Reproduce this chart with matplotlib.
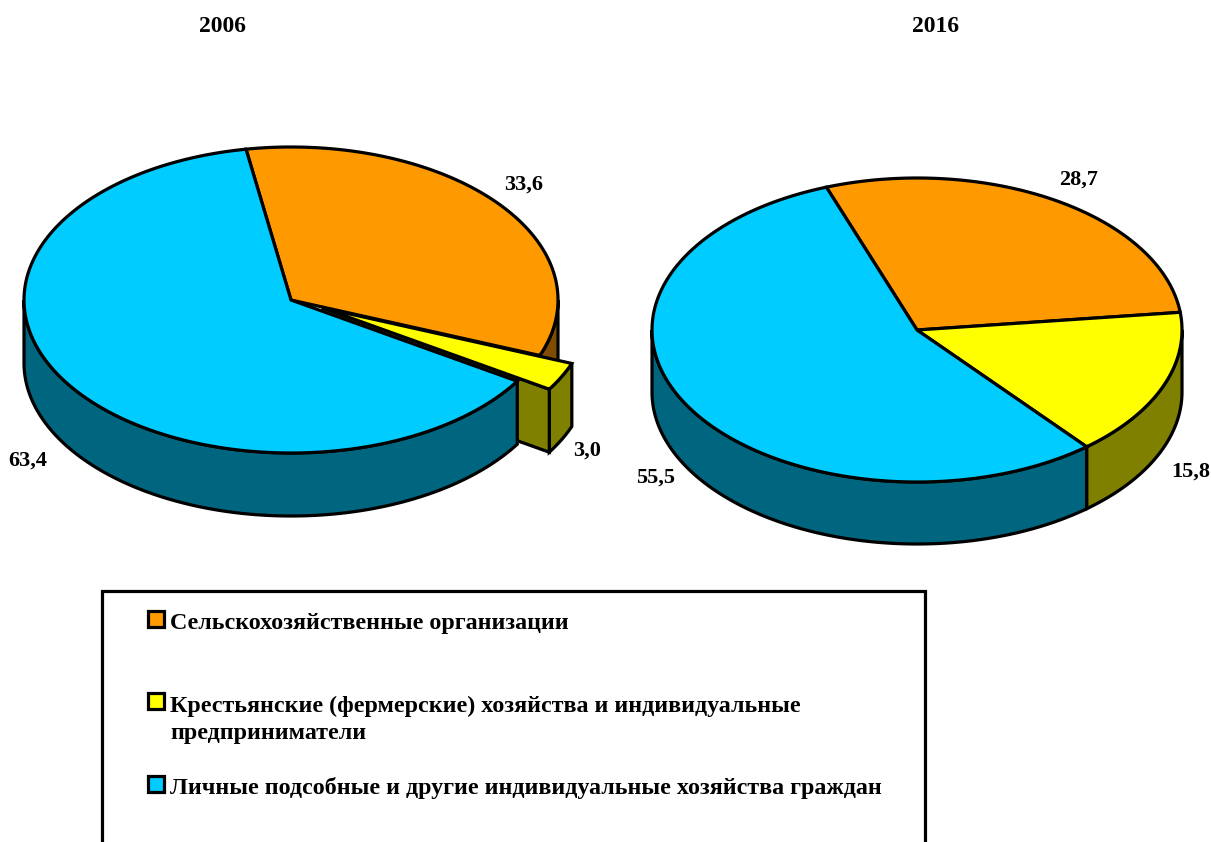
import numpy as np
from matplotlib import pyplot as plt
from matplotlib.patches import Polygon, Rectangle

plt.rcParams['font.family'] = ['Liberation Serif', 'DejaVu Serif']

categories = ['Сельскохозяйственные организации',
              'Крестьянские (фермерские) хозяйства и индивидуальные\nпредприниматели',
              'Личные подсобные и другие индивидуальные хозяйства граждан']
years = ['2006', '2016']
values2006 = [33.6, 3.0, 63.4]
values2016 = [28.7, 15.8, 55.5]

topColors = ['#FF9900', '#FFFF00', '#00CCFF']
sideColors = ['#804D00', '#808000', '#006680']
LINE = 2.3


def arc(cx, cy, rx, ry, t1, t2):
    t = np.radians(np.linspace(t1, t2, 200))
    return np.column_stack((cx + rx * np.cos(t), cy - ry * np.sin(t)))


def drawPie(ax, values, cx, cy, rx, ry, depth, start, offsets):
    angle = start
    for i, value in enumerate(values):
        end = angle - value / sum(values) * 360
        dx, dy = offsets.get(i, (0, 0))
        x0, y0 = cx + dx, cy + dy
        down = np.array([0, depth])

        # outer rim, only the front half of the ellipse is visible
        t1, t2 = min(angle, 0), max(end, -180)
        if t1 > t2:
            top = arc(x0, y0, rx, ry, t1, t2)
            ax.add_patch(Polygon(np.vstack((top, (top + down)[::-1])), fc=sideColors[i], ec='k', lw=LINE))

        # cut face of an exploded slice
        if i in offsets:
            outer = arc(x0, y0, rx, ry, end, end)[0]
            face = [(x0, y0), outer, outer + down, (x0, y0 + depth)]
            ax.add_patch(Polygon(face, fc=sideColors[i], ec='k', lw=LINE))

        wedge = np.vstack(([(x0, y0)], arc(x0, y0, rx, ry, angle, end)))
        ax.add_patch(Polygon(wedge, fc=topColors[i], ec='k', lw=LINE))
        angle = end


fig = plt.figure(figsize=(12.11, 8.42), dpi=100)
ax = fig.add_axes([0, 0, 1, 1])
ax.set_xlim(0, 1211)
ax.set_ylim(842, 0)
ax.axis('off')

drawPie(ax, values2006, 291, 300, 267, 153, 63, 99.7, {1: (32, 8)})
drawPie(ax, values2016, 917, 330, 265, 152, 62, 110, {})

titleStyle = dict(fontsize=17, fontweight='bold', color='k', va='center')
ax.text(222, 26, years[0], ha='center', **titleStyle)
ax.text(936, 26, years[1], ha='center', **titleStyle)

labelStyle = dict(fontsize=16, fontweight='bold', color='k', va='center')
labelPos2006 = [(524, 185), (587, 451), (28, 461)]
labelPos2016 = [(1079, 180), (1191, 472), (656, 478)]
for values, positions in ((values2006, labelPos2006), (values2016, labelPos2016)):
    for value, (x, y) in zip(values, positions):
        ax.text(x, y, f'{value:.1f}'.replace('.', ','), ha='center', **labelStyle)

# legend box runs off the bottom of the picture
ax.add_patch(Rectangle((102, 591), 823, 300, fc='white', ec='k', lw=LINE))
swatchY = [611, 693, 776]
textY = [623, 720, 788]
for i, name in enumerate(categories):
    ax.add_patch(Rectangle((148, swatchY[i]), 16, 16, fc=topColors[i], ec='k', lw=LINE))
    ax.text(170, textY[i], name, ha='left', fontsize=17.3, fontweight='bold', va='center', linespacing=1.42)

fig.savefig('out.png', dpi=100)
